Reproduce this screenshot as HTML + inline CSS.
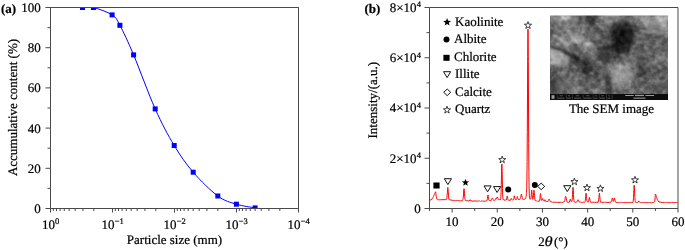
<!DOCTYPE html>
<html><head><meta charset="utf-8"><style>
html,body{margin:0;padding:0;background:#fff;width:685px;height:250px;overflow:hidden}
svg{display:block}
text{font-family:"Liberation Serif",serif;text-rendering:geometricPrecision;stroke:#000;stroke-width:0.22px}
svg{will-change:transform}
</style></head><body>
<svg width="685" height="250" viewBox="0 0 685 250" font-family="'Liberation Serif', serif" font-size="13" fill="#000">
<path d="M50.5 7.5H298.5V208.5H50.5Z" fill="none" stroke="#4a4a4a" stroke-width="1"/>
<path d="M45.5 208.5H50.5M47.5 188.4H50.5M45.5 168.3H50.5M47.5 148.2H50.5M45.5 128.1H50.5M47.5 108H50.5M45.5 87.9H50.5M47.5 67.8H50.5M45.5 47.7H50.5M47.5 27.6H50.5M45.5 7.5H50.5M50.5 208.5V212.5M53.34 208.5V211M56.51 208.5V211M60.1 208.5V211M64.25 208.5V211M69.16 208.5V211M75.17 208.5V211M82.92 208.5V211M93.84 208.5V211M112.5 208.5V212.5M115.34 208.5V211M118.51 208.5V211M122.1 208.5V211M126.25 208.5V211M131.16 208.5V211M137.17 208.5V211M144.92 208.5V211M155.84 208.5V211M174.5 208.5V212.5M177.34 208.5V211M180.51 208.5V211M184.1 208.5V211M188.25 208.5V211M193.16 208.5V211M199.17 208.5V211M206.92 208.5V211M217.84 208.5V211M236.5 208.5V212.5M239.34 208.5V211M242.51 208.5V211M246.1 208.5V211M250.25 208.5V211M255.16 208.5V211M261.17 208.5V211M268.92 208.5V211M279.84 208.5V211M298.5 208.5V212.5" fill="none" stroke="#4a4a4a" stroke-width="1"/>
<text x="40.7" y="212.9" text-anchor="end">0</text>
<text x="40.7" y="172.7" text-anchor="end">20</text>
<text x="40.7" y="132.5" text-anchor="end">40</text>
<text x="40.7" y="92.3" text-anchor="end">60</text>
<text x="40.7" y="52.1" text-anchor="end">80</text>
<text x="40.7" y="11.9" text-anchor="end">100</text>
<text x="41.88" y="228.6">10</text>
<text x="55.08" y="223.5" font-size="8.5">0</text>
<text x="101.47" y="228.6">10</text>
<text x="114.67" y="223.5" font-size="8.5">−1</text>
<text x="163.47" y="228.6">10</text>
<text x="176.67" y="223.5" font-size="8.5">−2</text>
<text x="225.47" y="228.6">10</text>
<text x="238.67" y="223.5" font-size="8.5">−3</text>
<text x="287.48" y="228.6">10</text>
<text x="300.68" y="223.5" font-size="8.5">−4</text>
<text x="174.5" y="244.3" text-anchor="middle">Particle size (mm)</text>
<text transform="translate(16.8 107.5) rotate(-90)" text-anchor="middle">Accumulative content (%)</text>
<text x="1" y="12.8" font-weight="bold">(a)</text>
<defs><clipPath id="ca"><rect x="50.5" y="7.5" width="248.0" height="201.0"/></clipPath></defs>
<g clip-path="url(#ca)"><path d="M82.5 7.5C84.32 7.5 88.47 6.27 93.4 7.5C98.33 8.73 107.68 11.93 112.1 14.9C116.52 17.87 116.32 18.63 119.9 25.3C123.48 31.97 127.72 40.97 133.6 54.9C139.48 68.83 148.43 93.8 155.2 108.9C161.97 124 167.87 134.95 174.2 145.5C180.53 156.05 185.93 163.78 193.2 172.2C200.47 180.62 210.6 190.67 217.8 196C225 201.33 230.18 202.22 236.4 204.2C242.62 206.18 251.98 207.28 255.1 207.9" fill="none" stroke="#0000ff" stroke-width="1"/>
<rect x="80" y="5" width="5" height="5" fill="#0000ff"/>
<rect x="90.9" y="5" width="5" height="5" fill="#0000ff"/>
<rect x="109.6" y="12.4" width="5" height="5" fill="#0000ff"/>
<rect x="117.4" y="22.8" width="5" height="5" fill="#0000ff"/>
<rect x="131.1" y="52.4" width="5" height="5" fill="#0000ff"/>
<rect x="152.7" y="106.4" width="5" height="5" fill="#0000ff"/>
<rect x="171.7" y="143" width="5" height="5" fill="#0000ff"/>
<rect x="190.7" y="169.7" width="5" height="5" fill="#0000ff"/>
<rect x="215.3" y="193.5" width="5" height="5" fill="#0000ff"/>
<rect x="233.9" y="201.7" width="5" height="5" fill="#0000ff"/>
<rect x="252.6" y="205.4" width="5" height="5" fill="#0000ff"/>
</g>
<path d="M50.5 7.5H298.5M50.5 208.5H298.5" stroke="#4a4a4a" stroke-width="1"/>
<path d="M429.5 7.5H678V208.5H429.5Z" fill="none" stroke="#4a4a4a" stroke-width="1"/>
<path d="M424.5 208.5H429.5M426.5 183.38H429.5M424.5 158.25H429.5M426.5 133.12H429.5M424.5 108H429.5M426.5 82.88H429.5M424.5 57.75H429.5M426.5 32.62H429.5M424.5 7.5H429.5M429.5 208.5V211M452.09 208.5V212.5M474.68 208.5V211M497.27 208.5V212.5M519.86 208.5V211M542.45 208.5V212.5M565.05 208.5V211M587.64 208.5V212.5M610.23 208.5V211M632.82 208.5V212.5M655.41 208.5V211M678 208.5V212.5" fill="none" stroke="#4a4a4a" stroke-width="1"/>
<text x="452.09" y="226.3" text-anchor="middle">10</text>
<text x="497.27" y="226.3" text-anchor="middle">20</text>
<text x="542.45" y="226.3" text-anchor="middle">30</text>
<text x="587.64" y="226.3" text-anchor="middle">40</text>
<text x="632.82" y="226.3" text-anchor="middle">50</text>
<text x="678" y="226.3" text-anchor="middle">60</text>
<text x="420.8" y="212.9" text-anchor="end">0</text>
<text x="416.6" y="162.65" text-anchor="end">2×10</text>
<text x="416.8" y="158.05" font-size="8.5">4</text>
<text x="416.6" y="112.4" text-anchor="end">4×10</text>
<text x="416.8" y="107.8" font-size="8.5">4</text>
<text x="416.6" y="62.15" text-anchor="end">6×10</text>
<text x="416.8" y="57.55" font-size="8.5">4</text>
<text x="416.6" y="11.9" text-anchor="end">8×10</text>
<text x="416.8" y="7.3" font-size="8.5">4</text>
<text x="364.5" y="12.8" font-weight="bold">(b)</text>
<text transform="translate(377 100.2) rotate(-90)" text-anchor="middle">Intensity/(a.u.)</text>
<text x="538.2" y="245.5">2</text><text transform="translate(544.6 245.5) scale(1.18 1)" font-style="italic" font-size="14">θ</text><text x="553.9" y="245.5">(°)</text>
<text x="455" y="25.8">Kaolinite</text>
<text x="454" y="43.3">Albite</text>
<text x="454" y="60.8">Chlorite</text>
<text x="455" y="78.3">Illite</text>
<text x="455" y="95.8">Calcite</text>
<text x="455" y="113.3">Quartz</text>
<polygon points="447.1,18 448.14,20.77 451.09,20.9 448.78,22.75 449.57,25.6 447.1,23.96 444.63,25.6 445.42,22.75 443.11,20.9 446.06,20.77" fill="#000"/>
<circle cx="446.5" cy="39.5" r="3" fill="#000"/>
<rect x="443.4" y="54.8" width="6.2" height="6" fill="#000"/>
<path d="M443.5 71.7H450.7L447.1 77.6Z" fill="none" stroke="#111" stroke-width="1"/>
<path d="M443.7 92.3L447.2 89L450.7 92.3L447.2 95.6Z" fill="none" stroke="#111" stroke-width="1"/>
<polygon points="447,106.2 447.89,108.77 450.61,108.83 448.45,110.47 449.23,113.07 447,111.52 444.77,113.07 445.55,110.47 443.39,108.83 446.11,108.77" fill="none" stroke="#111" stroke-width="0.8"/>
<defs><filter id="bl" x="-0.2" y="-0.2" width="1.4" height="1.4"><feGaussianBlur stdDeviation="3"/></filter><clipPath id="cs"><rect x="550" y="15.5" width="118" height="78.5"/></clipPath></defs>
<defs><filter id="tx" x="0" y="0" width="1" height="1" color-interpolation-filters="sRGB"><feTurbulence type="fractalNoise" baseFrequency="0.2" numOctaves="2" seed="7" result="n"/><feColorMatrix type="matrix" values="0 0 0 0 0  0 0 0 0 0  0 0 0 0 0  1.6 0 0 0 -0.55" result="a"/><feComposite in="SourceGraphic" in2="a" operator="in"/></filter></defs>
<g clip-path="url(#cs)"><g filter="url(#bl)"><rect x="539.87" y="5.39" width="10.43" height="10.41" fill="rgb(127,127,127)"/><rect x="549.7" y="5.39" width="10.43" height="10.41" fill="rgb(127,127,127)"/><rect x="559.53" y="5.39" width="10.43" height="10.41" fill="rgb(152,152,152)"/><rect x="569.37" y="5.39" width="10.43" height="10.41" fill="rgb(114,114,114)"/><rect x="579.2" y="5.39" width="10.43" height="10.41" fill="rgb(89,89,89)"/><rect x="589.03" y="5.39" width="10.43" height="10.41" fill="rgb(64,64,64)"/><rect x="598.87" y="5.39" width="10.43" height="10.41" fill="rgb(127,127,127)"/><rect x="608.7" y="5.39" width="10.43" height="10.41" fill="rgb(152,152,152)"/><rect x="618.53" y="5.39" width="10.43" height="10.41" fill="rgb(102,102,102)"/><rect x="628.37" y="5.39" width="10.43" height="10.41" fill="rgb(114,114,114)"/><rect x="638.2" y="5.39" width="10.43" height="10.41" fill="rgb(127,127,127)"/><rect x="648.03" y="5.39" width="10.43" height="10.41" fill="rgb(102,102,102)"/><rect x="657.87" y="5.39" width="10.43" height="10.41" fill="rgb(152,152,152)"/><rect x="667.7" y="5.39" width="10.43" height="10.41" fill="rgb(152,152,152)"/><rect x="539.87" y="15.2" width="10.43" height="10.41" fill="rgb(127,127,127)"/><rect x="549.7" y="15.2" width="10.43" height="10.41" fill="rgb(127,127,127)"/><rect x="559.53" y="15.2" width="10.43" height="10.41" fill="rgb(152,152,152)"/><rect x="569.37" y="15.2" width="10.43" height="10.41" fill="rgb(114,114,114)"/><rect x="579.2" y="15.2" width="10.43" height="10.41" fill="rgb(89,89,89)"/><rect x="589.03" y="15.2" width="10.43" height="10.41" fill="rgb(64,64,64)"/><rect x="598.87" y="15.2" width="10.43" height="10.41" fill="rgb(127,127,127)"/><rect x="608.7" y="15.2" width="10.43" height="10.41" fill="rgb(152,152,152)"/><rect x="618.53" y="15.2" width="10.43" height="10.41" fill="rgb(102,102,102)"/><rect x="628.37" y="15.2" width="10.43" height="10.41" fill="rgb(114,114,114)"/><rect x="638.2" y="15.2" width="10.43" height="10.41" fill="rgb(127,127,127)"/><rect x="648.03" y="15.2" width="10.43" height="10.41" fill="rgb(102,102,102)"/><rect x="657.87" y="15.2" width="10.43" height="10.41" fill="rgb(152,152,152)"/><rect x="667.7" y="15.2" width="10.43" height="10.41" fill="rgb(152,152,152)"/><rect x="539.87" y="25.01" width="10.43" height="10.41" fill="rgb(102,102,102)"/><rect x="549.7" y="25.01" width="10.43" height="10.41" fill="rgb(102,102,102)"/><rect x="559.53" y="25.01" width="10.43" height="10.41" fill="rgb(114,114,114)"/><rect x="569.37" y="25.01" width="10.43" height="10.41" fill="rgb(127,127,127)"/><rect x="579.2" y="25.01" width="10.43" height="10.41" fill="rgb(114,114,114)"/><rect x="589.03" y="25.01" width="10.43" height="10.41" fill="rgb(77,77,77)"/><rect x="598.87" y="25.01" width="10.43" height="10.41" fill="rgb(102,102,102)"/><rect x="608.7" y="25.01" width="10.43" height="10.41" fill="rgb(52,52,52)"/><rect x="618.53" y="25.01" width="10.43" height="10.41" fill="rgb(2,2,2)"/><rect x="628.37" y="25.01" width="10.43" height="10.41" fill="rgb(39,39,39)"/><rect x="638.2" y="25.01" width="10.43" height="10.41" fill="rgb(102,102,102)"/><rect x="648.03" y="25.01" width="10.43" height="10.41" fill="rgb(89,89,89)"/><rect x="657.87" y="25.01" width="10.43" height="10.41" fill="rgb(114,114,114)"/><rect x="667.7" y="25.01" width="10.43" height="10.41" fill="rgb(114,114,114)"/><rect x="539.87" y="34.83" width="10.43" height="10.41" fill="rgb(89,89,89)"/><rect x="549.7" y="34.83" width="10.43" height="10.41" fill="rgb(89,89,89)"/><rect x="559.53" y="34.83" width="10.43" height="10.41" fill="rgb(127,127,127)"/><rect x="569.37" y="34.83" width="10.43" height="10.41" fill="rgb(139,139,139)"/><rect x="579.2" y="34.83" width="10.43" height="10.41" fill="rgb(114,114,114)"/><rect x="589.03" y="34.83" width="10.43" height="10.41" fill="rgb(102,102,102)"/><rect x="598.87" y="34.83" width="10.43" height="10.41" fill="rgb(89,89,89)"/><rect x="608.7" y="34.83" width="10.43" height="10.41" fill="rgb(39,39,39)"/><rect x="618.53" y="34.83" width="10.43" height="10.41" fill="rgb(21,21,21)"/><rect x="628.37" y="34.83" width="10.43" height="10.41" fill="rgb(71,71,71)"/><rect x="638.2" y="34.83" width="10.43" height="10.41" fill="rgb(102,102,102)"/><rect x="648.03" y="34.83" width="10.43" height="10.41" fill="rgb(89,89,89)"/><rect x="657.87" y="34.83" width="10.43" height="10.41" fill="rgb(102,102,102)"/><rect x="667.7" y="34.83" width="10.43" height="10.41" fill="rgb(102,102,102)"/><rect x="539.87" y="44.64" width="10.43" height="10.41" fill="rgb(152,152,152)"/><rect x="549.7" y="44.64" width="10.43" height="10.41" fill="rgb(152,152,152)"/><rect x="559.53" y="44.64" width="10.43" height="10.41" fill="rgb(127,127,127)"/><rect x="569.37" y="44.64" width="10.43" height="10.41" fill="rgb(77,77,77)"/><rect x="579.2" y="44.64" width="10.43" height="10.41" fill="rgb(127,127,127)"/><rect x="589.03" y="44.64" width="10.43" height="10.41" fill="rgb(114,114,114)"/><rect x="598.87" y="44.64" width="10.43" height="10.41" fill="rgb(77,77,77)"/><rect x="608.7" y="44.64" width="10.43" height="10.41" fill="rgb(39,39,39)"/><rect x="618.53" y="44.64" width="10.43" height="10.41" fill="rgb(46,46,46)"/><rect x="628.37" y="44.64" width="10.43" height="10.41" fill="rgb(77,77,77)"/><rect x="638.2" y="44.64" width="10.43" height="10.41" fill="rgb(89,89,89)"/><rect x="648.03" y="44.64" width="10.43" height="10.41" fill="rgb(89,89,89)"/><rect x="657.87" y="44.64" width="10.43" height="10.41" fill="rgb(89,89,89)"/><rect x="667.7" y="44.64" width="10.43" height="10.41" fill="rgb(89,89,89)"/><rect x="539.87" y="54.45" width="10.43" height="10.41" fill="rgb(139,139,139)"/><rect x="549.7" y="54.45" width="10.43" height="10.41" fill="rgb(139,139,139)"/><rect x="559.53" y="54.45" width="10.43" height="10.41" fill="rgb(114,114,114)"/><rect x="569.37" y="54.45" width="10.43" height="10.41" fill="rgb(64,64,64)"/><rect x="579.2" y="54.45" width="10.43" height="10.41" fill="rgb(77,77,77)"/><rect x="589.03" y="54.45" width="10.43" height="10.41" fill="rgb(102,102,102)"/><rect x="598.87" y="54.45" width="10.43" height="10.41" fill="rgb(114,114,114)"/><rect x="608.7" y="54.45" width="10.43" height="10.41" fill="rgb(64,64,64)"/><rect x="618.53" y="54.45" width="10.43" height="10.41" fill="rgb(102,102,102)"/><rect x="628.37" y="54.45" width="10.43" height="10.41" fill="rgb(114,114,114)"/><rect x="638.2" y="54.45" width="10.43" height="10.41" fill="rgb(102,102,102)"/><rect x="648.03" y="54.45" width="10.43" height="10.41" fill="rgb(114,114,114)"/><rect x="657.87" y="54.45" width="10.43" height="10.41" fill="rgb(127,127,127)"/><rect x="667.7" y="54.45" width="10.43" height="10.41" fill="rgb(127,127,127)"/><rect x="539.87" y="64.26" width="10.43" height="10.41" fill="rgb(77,77,77)"/><rect x="549.7" y="64.26" width="10.43" height="10.41" fill="rgb(77,77,77)"/><rect x="559.53" y="64.26" width="10.43" height="10.41" fill="rgb(102,102,102)"/><rect x="569.37" y="64.26" width="10.43" height="10.41" fill="rgb(77,77,77)"/><rect x="579.2" y="64.26" width="10.43" height="10.41" fill="rgb(52,52,52)"/><rect x="589.03" y="64.26" width="10.43" height="10.41" fill="rgb(64,64,64)"/><rect x="598.87" y="64.26" width="10.43" height="10.41" fill="rgb(89,89,89)"/><rect x="608.7" y="64.26" width="10.43" height="10.41" fill="rgb(139,139,139)"/><rect x="618.53" y="64.26" width="10.43" height="10.41" fill="rgb(127,127,127)"/><rect x="628.37" y="64.26" width="10.43" height="10.41" fill="rgb(114,114,114)"/><rect x="638.2" y="64.26" width="10.43" height="10.41" fill="rgb(77,77,77)"/><rect x="648.03" y="64.26" width="10.43" height="10.41" fill="rgb(89,89,89)"/><rect x="657.87" y="64.26" width="10.43" height="10.41" fill="rgb(89,89,89)"/><rect x="667.7" y="64.26" width="10.43" height="10.41" fill="rgb(89,89,89)"/><rect x="539.87" y="74.08" width="10.43" height="10.41" fill="rgb(77,77,77)"/><rect x="549.7" y="74.08" width="10.43" height="10.41" fill="rgb(77,77,77)"/><rect x="559.53" y="74.08" width="10.43" height="10.41" fill="rgb(102,102,102)"/><rect x="569.37" y="74.08" width="10.43" height="10.41" fill="rgb(114,114,114)"/><rect x="579.2" y="74.08" width="10.43" height="10.41" fill="rgb(89,89,89)"/><rect x="589.03" y="74.08" width="10.43" height="10.41" fill="rgb(77,77,77)"/><rect x="598.87" y="74.08" width="10.43" height="10.41" fill="rgb(89,89,89)"/><rect x="608.7" y="74.08" width="10.43" height="10.41" fill="rgb(127,127,127)"/><rect x="618.53" y="74.08" width="10.43" height="10.41" fill="rgb(127,127,127)"/><rect x="628.37" y="74.08" width="10.43" height="10.41" fill="rgb(102,102,102)"/><rect x="638.2" y="74.08" width="10.43" height="10.41" fill="rgb(77,77,77)"/><rect x="648.03" y="74.08" width="10.43" height="10.41" fill="rgb(89,89,89)"/><rect x="657.87" y="74.08" width="10.43" height="10.41" fill="rgb(89,89,89)"/><rect x="667.7" y="74.08" width="10.43" height="10.41" fill="rgb(89,89,89)"/><rect x="539.87" y="83.89" width="10.43" height="10.41" fill="rgb(102,102,102)"/><rect x="549.7" y="83.89" width="10.43" height="10.41" fill="rgb(102,102,102)"/><rect x="559.53" y="83.89" width="10.43" height="10.41" fill="rgb(89,89,89)"/><rect x="569.37" y="83.89" width="10.43" height="10.41" fill="rgb(127,127,127)"/><rect x="579.2" y="83.89" width="10.43" height="10.41" fill="rgb(102,102,102)"/><rect x="589.03" y="83.89" width="10.43" height="10.41" fill="rgb(114,114,114)"/><rect x="598.87" y="83.89" width="10.43" height="10.41" fill="rgb(102,102,102)"/><rect x="608.7" y="83.89" width="10.43" height="10.41" fill="rgb(102,102,102)"/><rect x="618.53" y="83.89" width="10.43" height="10.41" fill="rgb(114,114,114)"/><rect x="628.37" y="83.89" width="10.43" height="10.41" fill="rgb(102,102,102)"/><rect x="638.2" y="83.89" width="10.43" height="10.41" fill="rgb(102,102,102)"/><rect x="648.03" y="83.89" width="10.43" height="10.41" fill="rgb(89,89,89)"/><rect x="657.87" y="83.89" width="10.43" height="10.41" fill="rgb(89,89,89)"/><rect x="667.7" y="83.89" width="10.43" height="10.41" fill="rgb(89,89,89)"/><rect x="539.87" y="93.7" width="10.43" height="10.41" fill="rgb(102,102,102)"/><rect x="549.7" y="93.7" width="10.43" height="10.41" fill="rgb(102,102,102)"/><rect x="559.53" y="93.7" width="10.43" height="10.41" fill="rgb(89,89,89)"/><rect x="569.37" y="93.7" width="10.43" height="10.41" fill="rgb(127,127,127)"/><rect x="579.2" y="93.7" width="10.43" height="10.41" fill="rgb(102,102,102)"/><rect x="589.03" y="93.7" width="10.43" height="10.41" fill="rgb(114,114,114)"/><rect x="598.87" y="93.7" width="10.43" height="10.41" fill="rgb(102,102,102)"/><rect x="608.7" y="93.7" width="10.43" height="10.41" fill="rgb(102,102,102)"/><rect x="618.53" y="93.7" width="10.43" height="10.41" fill="rgb(114,114,114)"/><rect x="628.37" y="93.7" width="10.43" height="10.41" fill="rgb(102,102,102)"/><rect x="638.2" y="93.7" width="10.43" height="10.41" fill="rgb(102,102,102)"/><rect x="648.03" y="93.7" width="10.43" height="10.41" fill="rgb(89,89,89)"/><rect x="657.87" y="93.7" width="10.43" height="10.41" fill="rgb(89,89,89)"/><rect x="667.7" y="93.7" width="10.43" height="10.41" fill="rgb(89,89,89)"/></g><rect x="550" y="15.5" width="118" height="78.5" fill="#fff" opacity="0.35" filter="url(#tx)"/><rect x="550" y="15.5" width="118" height="78.5" fill="#000" opacity="0.4" filter="url(#tx2)"/><g filter="url(#hb2)"><path d="M550 44L560 47L574 54L585 62L584 66L572 59L559 52L550 50Z" fill="#000" opacity="0.45"/><path d="M582 60L590 59L592 70L588 76L582 72Z" fill="#000" opacity="0.35"/><path d="M598 47L609 46L611 58L606 66L598 60Z" fill="#000" opacity="0.4"/><path d="M613 23L624 20L633 26L632 40L628 52L619 54L612 47L610 34Z" fill="#000" opacity="0.45"/><path d="M585 15.5L597 15.5L596 22L588 23Z" fill="#000" opacity="0.3"/><path d="M550 78L556 79L557 94L550 94Z" fill="#000" opacity="0.35"/><path d="M605 76L613 75L613 94L606 94Z" fill="#000" opacity="0.35"/><path d="M636 57L645 58L645 76L637 77Z" fill="#000" opacity="0.25"/><path d="M560 15.5L565.5 21L571 15.5L568 15.5L565.5 18L562.5 15.5Z" fill="#fff" opacity="0.6"/><path d="M552 36L556 34L569 44L567 47Z" fill="#fff" opacity="0.35"/><path d="M570 34L585 36L584 43L571 42Z" fill="#fff" opacity="0.25"/><ellipse cx="588" cy="44" rx="3.5" ry="2.2" fill="#fff" opacity="0.55"/><path d="M550 49L560 52L569 58L569 65L558 66L550 64Z" fill="#fff" opacity="0.3"/><ellipse cx="622" cy="75" rx="11" ry="11" fill="#fff" opacity="0.18"/><path d="M640 16L668 16L668 33L655 31L645 26Z" fill="#fff" opacity="0.2"/><ellipse cx="660" cy="20" rx="2" ry="2" fill="#fff" opacity="0.6"/></g><g fill="none" stroke="#fff" stroke-linecap="round" filter="url(#hb)" opacity="0.4"><path d="M641 19L648 28L655 31.5" stroke-width="1.1"/><path d="M640 31L668 34" stroke-width="1.1"/><path d="M611 80C612 84 615 87 620 90M614 66C620 64 627 68 630 76C632 80 630 86 626 89" stroke-width="1"/><path d="M564 25L568 32" stroke-width="1"/><path d="M571 36.5L579 44.5" stroke-width="1"/></g></g>
<defs><filter id="hb2" x="-0.5" y="-0.5" width="2" height="2"><feGaussianBlur stdDeviation="1.2"/></filter></defs>
<defs><filter id="hb" x="-0.5" y="-0.5" width="2" height="2"><feGaussianBlur stdDeviation="0.9"/></filter></defs>
<defs><filter id="tx2" x="0" y="0" width="1" height="1" color-interpolation-filters="sRGB"><feTurbulence type="fractalNoise" baseFrequency="0.18" numOctaves="2" seed="19" result="n"/><feColorMatrix type="matrix" values="0 0 0 0 0  0 0 0 0 0  0 0 0 0 0  1.6 0 0 0 -0.55" result="a"/><feComposite in="SourceGraphic" in2="a" operator="in"/></filter></defs>
<rect x="550" y="94" width="118" height="6" fill="#0c0c0c"/>
<rect x="551.5" y="95.2" width="3" height="3.6" fill="#9a9a9a"/><rect x="556.9" y="94.5" width="0.5" height="5" fill="#555"/><rect x="565.9" y="94.5" width="0.5" height="5" fill="#555"/><rect x="572.4" y="94.5" width="0.5" height="5" fill="#555"/><rect x="582.8" y="94.5" width="0.5" height="5" fill="#555"/><rect x="592.8" y="94.5" width="0.5" height="5" fill="#555"/><rect x="598.9" y="94.5" width="0.5" height="5" fill="#555"/><rect x="606.2" y="94.5" width="0.5" height="5" fill="#555"/><rect x="611.8" y="94.5" width="0.5" height="5" fill="#555"/><rect x="559.62" y="95.3" width="3.25" height="0.9" fill="#555"/><rect x="558" y="97.7" width="6.5" height="0.9" fill="#606060"/><rect x="568" y="95.3" width="2" height="0.9" fill="#555"/><rect x="567" y="97.7" width="4" height="0.9" fill="#606060"/><rect x="575.75" y="95.3" width="3.5" height="0.9" fill="#555"/><rect x="574" y="97.7" width="7" height="0.9" fill="#606060"/><rect x="585.88" y="95.3" width="3.75" height="0.9" fill="#555"/><rect x="584" y="97.7" width="7.5" height="0.9" fill="#606060"/><rect x="594.88" y="95.3" width="1.75" height="0.9" fill="#555"/><rect x="594" y="97.7" width="3.5" height="0.9" fill="#606060"/><rect x="601.25" y="95.3" width="2.5" height="0.9" fill="#555"/><rect x="600" y="97.7" width="5" height="0.9" fill="#606060"/><rect x="608.25" y="95.3" width="1.5" height="0.9" fill="#555"/><rect x="607.5" y="97.7" width="3" height="0.9" fill="#606060"/><rect x="625.2" y="95.0" width="8.5" height="0.8" fill="#bbb"/><rect x="645.5" y="95.0" width="8.6" height="0.8" fill="#bbb"/><rect x="635" y="94.8" width="9" height="1.3" fill="#999"/><rect x="633.5" y="97.6" width="12" height="1.1" fill="#999"/>
<text x="611.5" y="113" text-anchor="middle">The SEM image</text>
<defs><clipPath id="cb"><rect x="429.5" y="7.5" width="248.5" height="201.0"/></clipPath></defs>
<path clip-path="url(#cb)" d="M429.5 200.5L429.7 200.59L429.9 200.38L430.1 200.41L430.3 200.31L430.5 199.86L430.7 199.7L430.9 200.06L431.1 199.56L431.3 199.39L431.5 199.67L431.7 199.16L431.9 199.18L432.1 198.74L432.3 198.59L432.5 198.04L432.7 198.04L432.9 197.86L433.1 197.31L433.3 197.07L433.5 196.61L433.7 195.8L433.9 195.74L434.1 195.13L434.3 194.42L434.5 193.72L434.7 193.68L434.9 192.94L435.1 192.65L435.3 192.38L435.4 192.14L435.5 192.16L435.55 191.8L435.7 191.97L435.85 192.56L435.9 193.39L436 194.54L436.1 195.17L436.3 196.81L436.5 197.82L436.7 198.83L436.9 198.84L437.1 199.18L437.3 199.16L437.5 199.4L437.7 199.42L437.9 199.46L438.1 199.65L438.3 199.69L438.5 199.92L438.7 199.81L438.9 199.98L439.1 199.96L439.3 200.05L439.5 199.87L439.7 199.58L439.9 200.01L440.1 200.08L440.3 200.05L440.5 199.85L440.7 199.94L440.9 199.65L441.1 200.02L441.3 199.87L441.5 199.7L441.7 199.57L441.9 200.04L442.1 200.13L442.3 199.59L442.5 200.01L442.7 199.78L442.9 199.62L443.1 199.71L443.3 199.99L443.5 200.05L443.7 199.55L443.9 199.89L444.1 199.54L444.3 199.94L444.5 199.7L444.7 200.03L444.9 200.08L445.1 199.78L445.3 200.06L445.5 199.63L445.7 199.46L445.9 199.74L446.1 199.35L446.3 199.36L446.5 199.26L446.7 198.85L446.9 197.46L447.1 195.42L447.3 193.11L447.5 189.71L447.65 188.33L447.7 187.92L447.8 187.31L447.9 187.67L447.95 188.08L448.1 189.94L448.3 193L448.5 195.81L448.7 197.83L448.9 199.16L449.1 199.45L449.3 199.65L449.5 199.94L449.7 199.72L449.9 199.8L450.1 200.24L450.3 200.01L450.5 200.06L450.7 199.77L450.9 200.04L451.1 200.16L451.3 199.85L451.5 200.24L451.7 200.27L451.9 199.95L452.1 200.31L452.3 200.24L452.5 200.38L452.7 200.21L452.9 200.44L453.1 200.48L453.3 200.07L453.5 200.11L453.7 200.5L453.9 200.69L454.1 200.29L454.3 200.43L454.5 200.53L454.7 200.38L454.9 200.43L455.1 200.42L455.3 200.47L455.5 200.62L455.7 200.46L455.9 200.53L456.1 200.78L456.3 200.35L456.5 200.7L456.7 200.81L456.9 200.58L457.1 200.54L457.3 200.91L457.5 200.59L457.7 200.57L457.9 200.74L458.1 200.91L458.3 200.57L458.5 200.72L458.7 200.74L458.9 201.06L459.1 200.84L459.3 201.1L459.5 200.71L459.7 200.82L459.9 201.03L460.1 201.17L460.3 200.9L460.5 200.76L460.7 200.68L460.9 200.92L461.1 200.7L461.3 201.05L461.5 201.05L461.7 200.64L461.9 200.67L462.1 200.95L462.3 200.79L462.5 200.78L462.7 200.28L462.9 199.62L463.1 198.62L463.3 196.99L463.5 193.93L463.7 190.99L463.85 189.3L463.9 188.94L464 188.63L464.1 189.19L464.15 189.04L464.3 190.43L464.5 193.69L464.7 196.29L464.9 198.39L465.1 199.35L465.3 200.36L465.5 200.69L465.7 200.42L465.9 200.8L466.1 200.9L466.3 200.84L466.5 200.78L466.7 200.66L466.9 200.72L467.1 200.67L467.3 200.58L467.5 200.91L467.7 200.74L467.9 201.06L468.1 200.61L468.3 201.14L468.5 201.01L468.7 201.15L468.9 201.12L469.1 201.08L469.3 200.81L469.5 200.33L469.7 200.56L469.9 199.97L470 199.93L470.1 200.05L470.15 199.93L470.3 199.82L470.45 200.19L470.5 200.04L470.6 199.98L470.7 200.06L470.9 200.68L471.1 200.67L471.3 201.01L471.5 200.85L471.7 200.81L471.9 201.05L472.1 201.23L472.3 200.85L472.5 201.23L472.7 201.31L472.9 201.25L473.1 201.26L473.3 200.77L473.5 201.15L473.7 201.29L473.9 200.8L474.1 200.94L474.3 200.94L474.5 201.09L474.7 201.03L474.9 201.06L475.1 201.24L475.3 200.78L475.5 200.81L475.7 200.86L475.9 200.86L476.1 200.82L476.3 201.37L476.5 201.29L476.7 200.83L476.9 201.08L477.1 200.97L477.3 200.97L477.5 200.99L477.7 201.17L477.9 201.13L478.1 201L478.3 200.9L478.5 200.98L478.7 200.86L478.9 201.12L479.1 201.21L479.3 201.01L479.5 200.83L479.7 200.89L479.9 201.01L480.1 201.14L480.3 201.25L480.5 201.01L480.7 201.26L480.9 201.15L481.1 201.04L481.3 201L481.5 201.08L481.7 201.2L481.9 201.03L482.1 201.19L482.3 201.05L482.5 200.92L482.7 201.1L482.9 201.19L483.1 200.82L483.3 201.03L483.5 201.03L483.7 201.3L483.9 201.33L484.1 200.99L484.3 201.3L484.5 201.24L484.7 200.92L484.9 201.03L485.1 200.82L485.3 201.23L485.5 201.14L485.7 201.26L485.9 201.2L486.1 201.09L486.3 201.08L486.5 200.91L486.7 200.53L486.9 200.63L487.1 199.86L487.3 199.12L487.5 198.2L487.7 196.23L487.85 195.32L487.9 195.11L488 195.4L488.1 195.13L488.15 195.22L488.3 196.6L488.5 197.63L488.7 199.28L488.9 199.93L489.1 200.38L489.3 200.57L489.5 200.37L489.7 200.49L489.9 200.01L490.1 200.44L490.3 200.28L490.5 200.39L490.7 200L490.9 200.35L491.1 200.39L491.3 199.72L491.5 199.62L491.7 199.34L491.9 198.97L492 198.35L492.1 198.08L492.15 198.03L492.3 198.12L492.45 198.32L492.5 198.19L492.6 198.4L492.7 198.67L492.9 199.16L493.1 199.6L493.3 199.65L493.5 200.03L493.7 200.37L493.9 200.05L494.1 200.25L494.3 199.89L494.5 200.2L494.7 200.22L494.9 200.14L495.1 199.98L495.3 199.82L495.5 199.66L495.7 199.41L495.9 198.47L496.05 198.11L496.1 198.43L496.2 198.43L496.3 198.19L496.35 198.17L496.5 198.46L496.7 198.2L496.9 197.99L497.1 197.4L497.1 197.63L497.25 197.08L497.3 196.94L497.4 197.16L497.5 197.4L497.55 197.1L497.7 197.77L497.9 198.3L498.1 199.19L498.3 199.46L498.5 199.51L498.7 199.6L498.9 199.52L499.1 199.81L499.3 199.75L499.5 199.61L499.7 199.7L499.9 199.65L500.1 199.88L500.3 199.42L500.5 199.69L500.7 198.64L500.9 196.68L501.1 192.06L501.3 184.46L501.5 174.5L501.55 171.92L501.7 166L501.7 166.14L501.85 163.97L501.9 163.96L502 166.16L502.1 169.93L502.15 171.88L502.3 179.24L502.5 188.46L502.7 194.93L502.9 198.05L503.1 199.49L503.3 199.87L503.5 199.65L503.7 199.68L503.9 199.77L504.1 199.75L504.3 200.09L504.5 200.2L504.7 200.24L504.9 199.87L505.1 200.24L505.3 199.92L505.5 199.98L505.7 200.16L505.9 199.76L506.1 199.7L506.3 199.95L506.5 199.15L506.7 198.28L506.9 197.2L507.05 196.47L507.1 195.89L507.2 195.94L507.3 196.16L507.35 196.36L507.5 197L507.7 198.46L507.9 199.59L508.1 199.75L508.3 200.04L508.5 199.87L508.7 199.99L508.9 200.24L509.1 199.92L509.3 200.4L509.5 200.41L509.7 199.92L509.9 200.42L510.1 200.03L510.3 200.14L510.5 199.9L510.7 199.26L510.9 199.04L511.05 198.74L511.1 198.77L511.2 198.39L511.3 198.73L511.35 198.91L511.5 199L511.7 199.34L511.9 199.43L512.1 199.87L512.3 199.88L512.5 200.13L512.7 200.1L512.9 200.02L513.1 199.74L513.3 199.89L513.5 199.6L513.7 198.76L513.9 198.27L514.1 197.04L514.25 196.06L514.3 196.4L514.4 195.8L514.5 196.03L514.55 196.4L514.7 196.97L514.7 196.95L514.9 198.06L515.1 198.84L515.3 199.3L515.5 199.47L515.7 199.5L515.9 199.9L516.1 199.87L516.3 199.6L516.5 199.4L516.7 198.58L516.9 197.71L517 197.35L517.1 197.27L517.15 196.62L517.3 196.69L517.45 196.73L517.5 197.18L517.6 197.3L517.7 197.7L517.9 198.54L518.1 199.18L518.3 199.62L518.5 199.49L518.7 199.82L518.9 199.38L519.1 199.45L519.3 199.32L519.5 199.28L519.7 199.59L519.9 199.4L520.1 198.81L520.3 198.36L520.5 197.84L520.7 197.14L520.9 196.16L521.1 195.15L521.25 194.54L521.3 194.17L521.4 194.23L521.5 194.18L521.55 194.48L521.7 195L521.7 194.78L521.9 195.75L522.1 197.07L522.3 197.47L522.5 198.57L522.7 199.04L522.9 199.31L523.1 199.1L523.3 199.26L523.5 199.29L523.7 199.32L523.9 199.52L524.1 199.33L524.3 199.09L524.5 199.4L524.7 199.14L524.9 199.16L525.1 199.15L525.3 198.57L525.5 198.76L525.7 198.25L525.9 197.44L526.1 196.44L526.3 194.97L526.3 194.81L526.45 193.43L526.5 192.43L526.6 190.9L526.7 188.4L526.75 186.58L526.9 179.15L527.1 161.45L527.3 132.27L527.5 93.93L527.7 56.75L527.85 36.67L527.9 32.31L528 29.21L528.1 33.09L528.15 37.79L528.3 61.45L528.5 103.98L528.7 143.62L528.9 172.23L529.1 187.91L529.3 194.73L529.5 197.87L529.7 198.63L529.9 199.14L530.1 199.13L530.3 199.2L530.5 198.93L530.7 198.99L530.9 198.38L531.1 196.82L531.3 194.12L531.4 192.92L531.5 191.49L531.55 190.76L531.7 190.02L531.85 190.82L531.9 191.44L532 192.74L532.1 194.39L532.3 197.07L532.5 198.55L532.7 199.16L532.9 199.33L533.1 198.56L533.3 197.29L533.5 195.2L533.7 192.25L533.85 190.46L533.9 190.54L534 190.16L534.1 190.29L534.15 190.68L534.3 192.54L534.5 195.46L534.7 197.65L534.9 199.05L535.1 199.96L535.3 200.66L535.5 200.46L535.7 200.76L535.9 200.69L536.1 200.78L536.3 200.83L536.5 201.04L536.7 200.96L536.9 200.94L537.1 201.02L537.3 201.06L537.5 201.26L537.7 201L537.9 200.98L538.1 201.23L538.3 201.2L538.5 201.37L538.7 200.96L538.9 201.15L539.1 201.11L539.3 200.81L539.5 201.15L539.7 200.12L539.9 198.78L540.1 196.99L540.2 195.66L540.3 194.9L540.35 194.31L540.5 193.58L540.65 194.02L540.7 194.78L540.8 195.39L540.9 196.71L541.1 198.44L541.3 200.08L541.5 200.39L541.7 200.53L541.9 200.33L542.1 200.16L542.3 199.41L542.3 199.24L542.45 198.68L542.5 198.94L542.6 199.04L542.7 198.9L542.75 198.64L542.9 199.09L543.1 199.82L543.3 200.42L543.5 200.68L543.7 200.83L543.9 201.17L544.1 201.16L544.3 200.44L544.5 200.52L544.65 199.98L544.7 200.13L544.8 200.16L544.9 200.22L544.95 199.73L545.1 200.15L545.1 200.33L545.3 200.94L545.5 200.76L545.7 201.1L545.9 201.54L546.1 201.15L546.3 201.34L546.5 201.32L546.7 201.53L546.9 201.68L547.1 201.23L547.3 201.56L547.5 201.54L547.7 201.57L547.9 201.31L548.1 201.36L548.3 200.73L548.5 200.34L548.7 199.73L548.8 199.82L548.9 199.44L548.95 199.23L549.1 199.07L549.25 199.51L549.3 199.52L549.4 199.79L549.5 199.84L549.7 200.41L549.9 200.65L550.1 201.3L550.3 201.11L550.5 201.51L550.7 201.77L550.9 201.79L551.1 201.49L551.3 201.63L551.5 202.04L551.7 201.97L551.9 202.15L552.1 202.19L552.3 201.98L552.5 202.29L552.7 202.24L552.9 202.04L553.1 202.08L553.3 201.91L553.5 202.11L553.7 202.45L553.9 201.94L554.1 202.22L554.3 201.95L554.5 201.93L554.7 202.28L554.9 202.03L555.1 201.92L555.3 201.99L555.5 202.28L555.7 202.25L555.9 201.91L556.1 202.04L556.3 202.49L556.5 202.04L556.7 202.25L556.9 202.16L557.1 202.38L557.3 202.28L557.5 202.39L557.7 202.24L557.9 202.03L558.1 202.03L558.3 201.97L558.5 202.42L558.7 202L558.9 201.94L559.1 202.51L559.3 202.05L559.5 202.47L559.7 201.98L559.9 202.21L560.1 202.07L560.3 202.43L560.5 202.3L560.7 202.32L560.9 202.39L561.1 202.45L561.3 202.14L561.5 202.29L561.7 202.19L561.9 201.99L562.1 202.42L562.3 202.27L562.5 202.39L562.7 202.01L562.9 202.2L563.1 202.14L563.3 202.28L563.5 201.86L563.7 201.98L563.9 201.99L564.1 201.62L564.3 201.7L564.5 201.43L564.7 200.64L564.9 199.92L565.1 198.83L565.3 197.47L565.4 197.05L565.5 197.03L565.55 196.48L565.7 196.33L565.85 196.33L565.9 196.56L566 196.93L566.1 197.9L566.3 198.9L566.5 200.05L566.7 200.96L566.9 201.33L567.1 201.9L567.3 201.87L567.5 201.92L567.7 202.3L567.9 202.31L568.1 202.35L568.3 202.08L568.5 202.26L568.7 202.03L568.9 202.37L569.1 202.27L569.3 201.76L569.5 201.86L569.7 200.89L569.9 200.11L570 200.09L570.1 199.49L570.15 199.48L570.3 199.35L570.45 199.18L570.5 199.74L570.6 199.8L570.7 200.28L570.9 200.93L571.1 201.66L571.3 201.92L571.5 201.71L571.7 201.5L571.9 201.22L572.1 200.23L572.3 197.84L572.5 194.36L572.7 190.57L572.85 188.03L572.9 187.66L573 187.22L573.1 187.61L573.15 187.84L573.3 190.22L573.5 194.48L573.7 198.1L573.9 200.34L574.1 201.43L574.3 201.75L574.5 202.2L574.7 201.93L574.9 202.07L575.1 202.35L575.3 202.32L575.5 202.02L575.7 202L575.9 202.34L576.1 201.86L576.3 201.92L576.5 202.13L576.7 202.07L576.9 201.72L577.1 201.42L577.3 201.15L577.5 201.01L577.7 200.32L577.85 200.35L577.9 200.17L578 200.24L578.1 199.72L578.15 199.87L578.3 200.06L578.5 200.81L578.7 201.24L578.9 201.44L579.1 201.97L579.3 201.83L579.5 202.03L579.7 202.03L579.9 202.38L580.1 202.16L580.3 202.07L580.5 201.95L580.7 202.18L580.9 202.31L581.1 202.34L581.3 202.48L581.5 202.42L581.7 202.08L581.9 202.02L582.1 202.39L582.3 202.41L582.5 202.23L582.7 202.42L582.9 202.25L583.1 202.08L583.3 202.01L583.5 201.91L583.7 202.28L583.9 202.41L584.1 202.4L584.3 202.11L584.5 202.2L584.7 202.28L584.9 202.04L585.1 201.5L585.3 200.45L585.5 198.8L585.7 196.21L585.8 194.98L585.9 194.19L585.95 193.95L586.1 193.08L586.25 193.59L586.3 193.99L586.4 195.13L586.5 196.58L586.7 198.74L586.9 200.74L587.1 201.19L587.3 201.69L587.5 201.97L587.7 201.95L587.9 202.22L588.1 202.16L588.3 202.1L588.5 201.6L588.7 200.62L588.9 199.92L589.1 198.67L589.25 197.85L589.3 197.55L589.4 197.67L589.5 197.94L589.55 197.62L589.7 198.75L589.7 198.57L589.9 199.91L590.1 201.17L590.3 201.85L590.5 201.99L590.7 201.87L590.9 202.37L591.1 201.96L591.3 202.11L591.5 202.39L591.7 202.1L591.9 202.08L592.1 202.49L592.3 202.5L592.5 202.13L592.7 202.17L592.9 202.11L593.1 202.02L593.3 202.1L593.5 202.54L593.7 202L593.9 202.09L594.1 202.07L594.3 202L594.5 202.27L594.7 202.4L594.9 202.46L595.1 202.33L595.3 202.44L595.5 201.95L595.7 202.12L595.9 202.52L596.1 201.98L596.3 202.1L596.5 202.22L596.7 202.08L596.9 202.24L597.1 201.93L597.3 202.03L597.5 202.44L597.7 201.93L597.9 202.33L598.1 201.8L598.3 202.03L598.5 201.22L598.7 199.94L598.9 197.62L599.1 195.16L599.25 194.12L599.3 193.45L599.4 193.2L599.5 193.84L599.55 194.19L599.7 195.16L599.7 195.7L599.9 197.86L600.1 199.78L600.3 200.88L600.5 201.67L600.7 202.28L600.9 201.96L601.1 201.92L601.3 201.96L601.5 201.97L601.7 202.12L601.9 202.47L602.1 201.97L602.3 202.05L602.5 202.5L602.7 202.54L602.9 202.54L603.1 202.1L603.3 202.17L603.5 202.53L603.7 202.25L603.9 202.38L604.1 202.15L604.3 201.98L604.5 202.17L604.7 202.41L604.9 202.44L605.1 202.31L605.3 202.25L605.5 202.29L605.7 202.23L605.9 202.29L606.1 202.47L606.3 202.09L606.5 202.32L606.7 202.52L606.9 202.47L607.1 202.07L607.3 202.54L607.5 202.46L607.7 202.06L607.9 202.12L608.1 202.08L608.3 201.98L608.5 202.54L608.7 202.19L608.9 202.46L609.1 202L609.3 201.94L609.5 202.44L609.7 202.39L609.9 202.5L610.1 202.3L610.3 202.2L610.5 202.33L610.7 201.89L610.9 202.1L611.1 201.92L611.3 201.49L611.5 201.32L611.7 200.45L611.9 199.64L612.1 198.6L612.25 198.02L612.3 197.93L612.4 197.97L612.5 198.33L612.55 198.46L612.7 199.14L612.7 199.12L612.9 199.94L613.1 201.26L613.3 201.3L613.5 201.22L613.7 200.98L613.9 200.21L614.1 198.82L614.25 198.28L614.3 197.91L614.4 198.2L614.5 197.99L614.55 198.13L614.7 198.73L614.7 198.93L614.9 200L615.1 200.67L615.3 201.35L615.5 201.92L615.7 201.86L615.9 202.22L616.1 202.55L616.3 202.55L616.5 202.15L616.7 202.65L616.9 202.39L617.1 202.77L617.3 202.42L617.5 202.34L617.7 202.56L617.9 202.77L618.1 202.51L618.3 202.77L618.5 202.68L618.7 202.48L618.9 202.44L619.1 202.57L619.3 202.51L619.5 202.49L619.7 202.66L619.9 202.8L620.1 202.62L620.3 202.36L620.5 202.41L620.7 202.5L620.9 202.64L621.1 202.36L621.3 202.33L621.5 202.47L621.7 202.45L621.9 202.3L622.1 202.6L622.3 202.83L622.5 202.6L622.7 202.72L622.9 202.78L623.1 202.78L623.3 202.83L623.5 202.55L623.7 202.69L623.9 202.35L624.1 202.81L624.3 202.51L624.5 202.57L624.7 202.82L624.9 202.45L625.1 202.4L625.3 202.78L625.5 202.64L625.7 202.33L625.9 202.3L626.1 202.49L626.3 202.28L626.5 202.78L626.7 202.39L626.9 202.44L627.1 202.51L627.3 202.58L627.5 202.54L627.7 202.65L627.9 202.67L628.1 202.54L628.3 202.33L628.5 202.86L628.7 202.68L628.9 202.32L629.1 202.53L629.3 202.72L629.5 202.86L629.7 202.3L629.9 202.26L630.1 202.54L630.3 202.5L630.5 202.78L630.7 202.73L630.9 202.43L631.1 202.48L631.3 202.57L631.5 202.73L631.7 202.31L631.9 202.41L632.1 202.2L632.3 202.5L632.5 202.09L632.7 202.56L632.9 202.13L633.1 201.66L633.3 200.13L633.5 197.69L633.7 193.77L633.9 189.21L633.9 189.01L634.05 185.98L634.1 185.79L634.2 185.08L634.3 185.52L634.35 185.93L634.5 188.87L634.7 194.03L634.9 197.63L635.1 200.4L635.3 201.68L635.5 202.02L635.7 202.45L635.9 202.61L636.1 202.62L636.3 202.57L636.5 202.27L636.7 202.2L636.9 202.43L637.1 202.36L637.3 202.27L637.5 202.65L637.7 202.18L637.9 202.41L638.1 202.26L638.3 201.47L638.5 201.65L638.65 201.17L638.7 201.02L638.8 200.98L638.9 200.92L638.95 201.23L639.1 201.34L639.1 201.62L639.3 201.92L639.5 201.75L639.7 202.18L639.9 202.32L640.1 202.27L640.3 202.36L640.5 202.39L640.7 202.66L640.9 202.45L641.1 202.32L641.3 202.39L641.5 202.53L641.7 202.6L641.9 202.42L642.1 202.69L642.3 202.4L642.5 202.68L642.7 202.64L642.9 202.38L643.1 202.73L643.3 202.51L643.5 202.6L643.7 202.64L643.9 202.66L644.1 202.55L644.3 202.31L644.5 202.75L644.7 202.8L644.9 202.58L645.1 202.63L645.3 202.44L645.5 202.82L645.7 202.69L645.9 202.42L646.1 202.77L646.3 202.88L646.5 202.49L646.7 202.88L646.9 202.57L647.1 202.39L647.3 202.71L647.5 202.49L647.7 202.72L647.9 202.63L648.1 202.35L648.3 202.6L648.5 202.79L648.7 202.57L648.9 202.6L649.1 202.8L649.3 202.55L649.5 202.57L649.7 202.63L649.9 202.77L650.1 202.39L650.3 202.33L650.5 202.73L650.7 202.6L650.9 202.45L651.1 202.8L651.3 202.79L651.5 202.58L651.7 202.84L651.9 202.75L652.1 202.69L652.3 202.41L652.5 202.23L652.7 202.62L652.9 202.64L653.1 202.39L653.3 202.45L653.5 202.47L653.7 202.25L653.9 202.46L654.1 202.3L654.3 202.07L654.5 201.68L654.7 201.44L654.9 200.07L655.1 197.92L655.25 195.36L655.3 194.88L655.4 194.21L655.5 194.37L655.55 194.51L655.7 194.41L655.7 194.38L655.9 195.04L656.1 195.42L656.3 196.23L656.5 196.69L656.7 197.32L656.9 198.22L657.1 199.04L657.3 199.54L657.5 199.81L657.7 200.15L657.9 200.3L658.1 200.73L658.3 201L658.5 201.58L658.7 201.26L658.9 201.9L659.1 201.73L659.3 201.8L659.5 201.77L659.7 202.25L659.9 201.84L660.1 202.12L660.3 202.12L660.5 201.97L660.7 202.02L660.9 202.5L661.1 202.41L661.3 202.4L661.5 202.52L661.7 202.06L661.9 202.44L662.1 202.48L662.3 202.18L662.5 202.33L662.7 202.66L662.9 202.28L663.1 202.55L663.3 202.2L663.5 202.51L663.7 202.28L663.9 202.43L664.1 202.36L664.3 202.67L664.5 202.6L664.7 202.46L664.9 202.57L665.1 202.42L665.3 202.66L665.5 202.33L665.7 202.51L665.9 202.54L666.1 202.42L666.3 202.22L666.5 202.3L666.7 202.59L666.9 202.33L667.1 202.66L667.3 202.51L667.5 202.79L667.7 202.72L667.9 202.66L668.1 202.44L668.3 202.25L668.5 202.56L668.7 202.68L668.9 202.78L669.1 202.35L669.3 202.33L669.5 202.82L669.7 202.68L669.9 202.53L670.1 202.68L670.3 202.33L670.5 202.57L670.7 202.65L670.9 202.61L671.1 202.34L671.3 202.33L671.5 202.63L671.7 202.78L671.9 202.34L672.1 202.26L672.3 202.3L672.5 202.73L672.7 202.49L672.9 202.53L673.1 202.85L673.3 202.63L673.5 202.42L673.7 202.68L673.9 202.26L674.1 202.43L674.3 202.68L674.5 202.37L674.7 202.28L674.9 202.58L675.1 202.46L675.3 202.85L675.5 202.33L675.7 202.75L675.9 202.5L676.1 202.75L676.3 202.54L676.5 202.67L676.7 202.47L676.9 202.41L677.1 202.54L677.3 202.75L677.5 202.48L677.7 202.41L677.9 202.52" fill="none" stroke="#ff0000" stroke-width="1"/>
<rect x="433.4" y="182.5" width="6.2" height="6" fill="#000"/>
<path d="M444.3 178.7H451.5L447.9 184.6Z" fill="none" stroke="#111" stroke-width="1"/>
<polygon points="465.5,178.7 466.46,181.27 469.21,181.39 467.06,183.11 467.79,185.76 465.5,184.24 463.21,185.76 463.94,183.11 461.79,181.39 464.54,181.27" fill="#000"/>
<path d="M484 185.9H491.2L487.6 191.8Z" fill="none" stroke="#111" stroke-width="1"/>
<path d="M493.5 186.6H500.7L497.1 192.5Z" fill="none" stroke="#111" stroke-width="1"/>
<circle cx="508.2" cy="189.6" r="3" fill="#000"/>
<polygon points="502.2,156.1 503.07,158.6 505.72,158.66 503.61,160.26 504.37,162.79 502.2,161.28 500.03,162.79 500.79,160.26 498.68,158.66 501.33,158.6" fill="none" stroke="#111" stroke-width="0.8"/>
<polygon points="528,21.6 528.89,24.17 531.61,24.23 529.45,25.87 530.23,28.47 528,26.92 525.77,28.47 526.55,25.87 524.39,24.23 527.11,24.17" fill="none" stroke="#111" stroke-width="0.8"/>
<circle cx="534.8" cy="184.9" r="3" fill="#000"/>
<path d="M537.7 186.4L541.2 183.1L544.7 186.4L541.2 189.7Z" fill="none" stroke="#111" stroke-width="1"/>
<path d="M563.7 185.7H570.9L567.3 191.6Z" fill="none" stroke="#111" stroke-width="1"/>
<polygon points="574.4,178.1 575.27,180.6 577.92,180.66 575.81,182.26 576.57,184.79 574.4,183.28 572.23,184.79 572.99,182.26 570.88,180.66 573.53,180.6" fill="none" stroke="#111" stroke-width="0.8"/>
<polygon points="587,184.1 587.87,186.6 590.52,186.66 588.41,188.26 589.17,190.79 587,189.28 584.83,190.79 585.59,188.26 583.48,186.66 586.13,186.6" fill="none" stroke="#111" stroke-width="0.8"/>
<polygon points="600.4,184.9 601.27,187.4 603.92,187.46 601.81,189.06 602.57,191.59 600.4,190.08 598.23,191.59 598.99,189.06 596.88,187.46 599.53,187.4" fill="none" stroke="#111" stroke-width="0.8"/>
<polygon points="635,176.3 635.87,178.8 638.52,178.86 636.41,180.46 637.17,182.99 635,181.48 632.83,182.99 633.59,180.46 631.48,178.86 634.13,178.8" fill="none" stroke="#111" stroke-width="0.8"/>
</svg>
</body></html>
